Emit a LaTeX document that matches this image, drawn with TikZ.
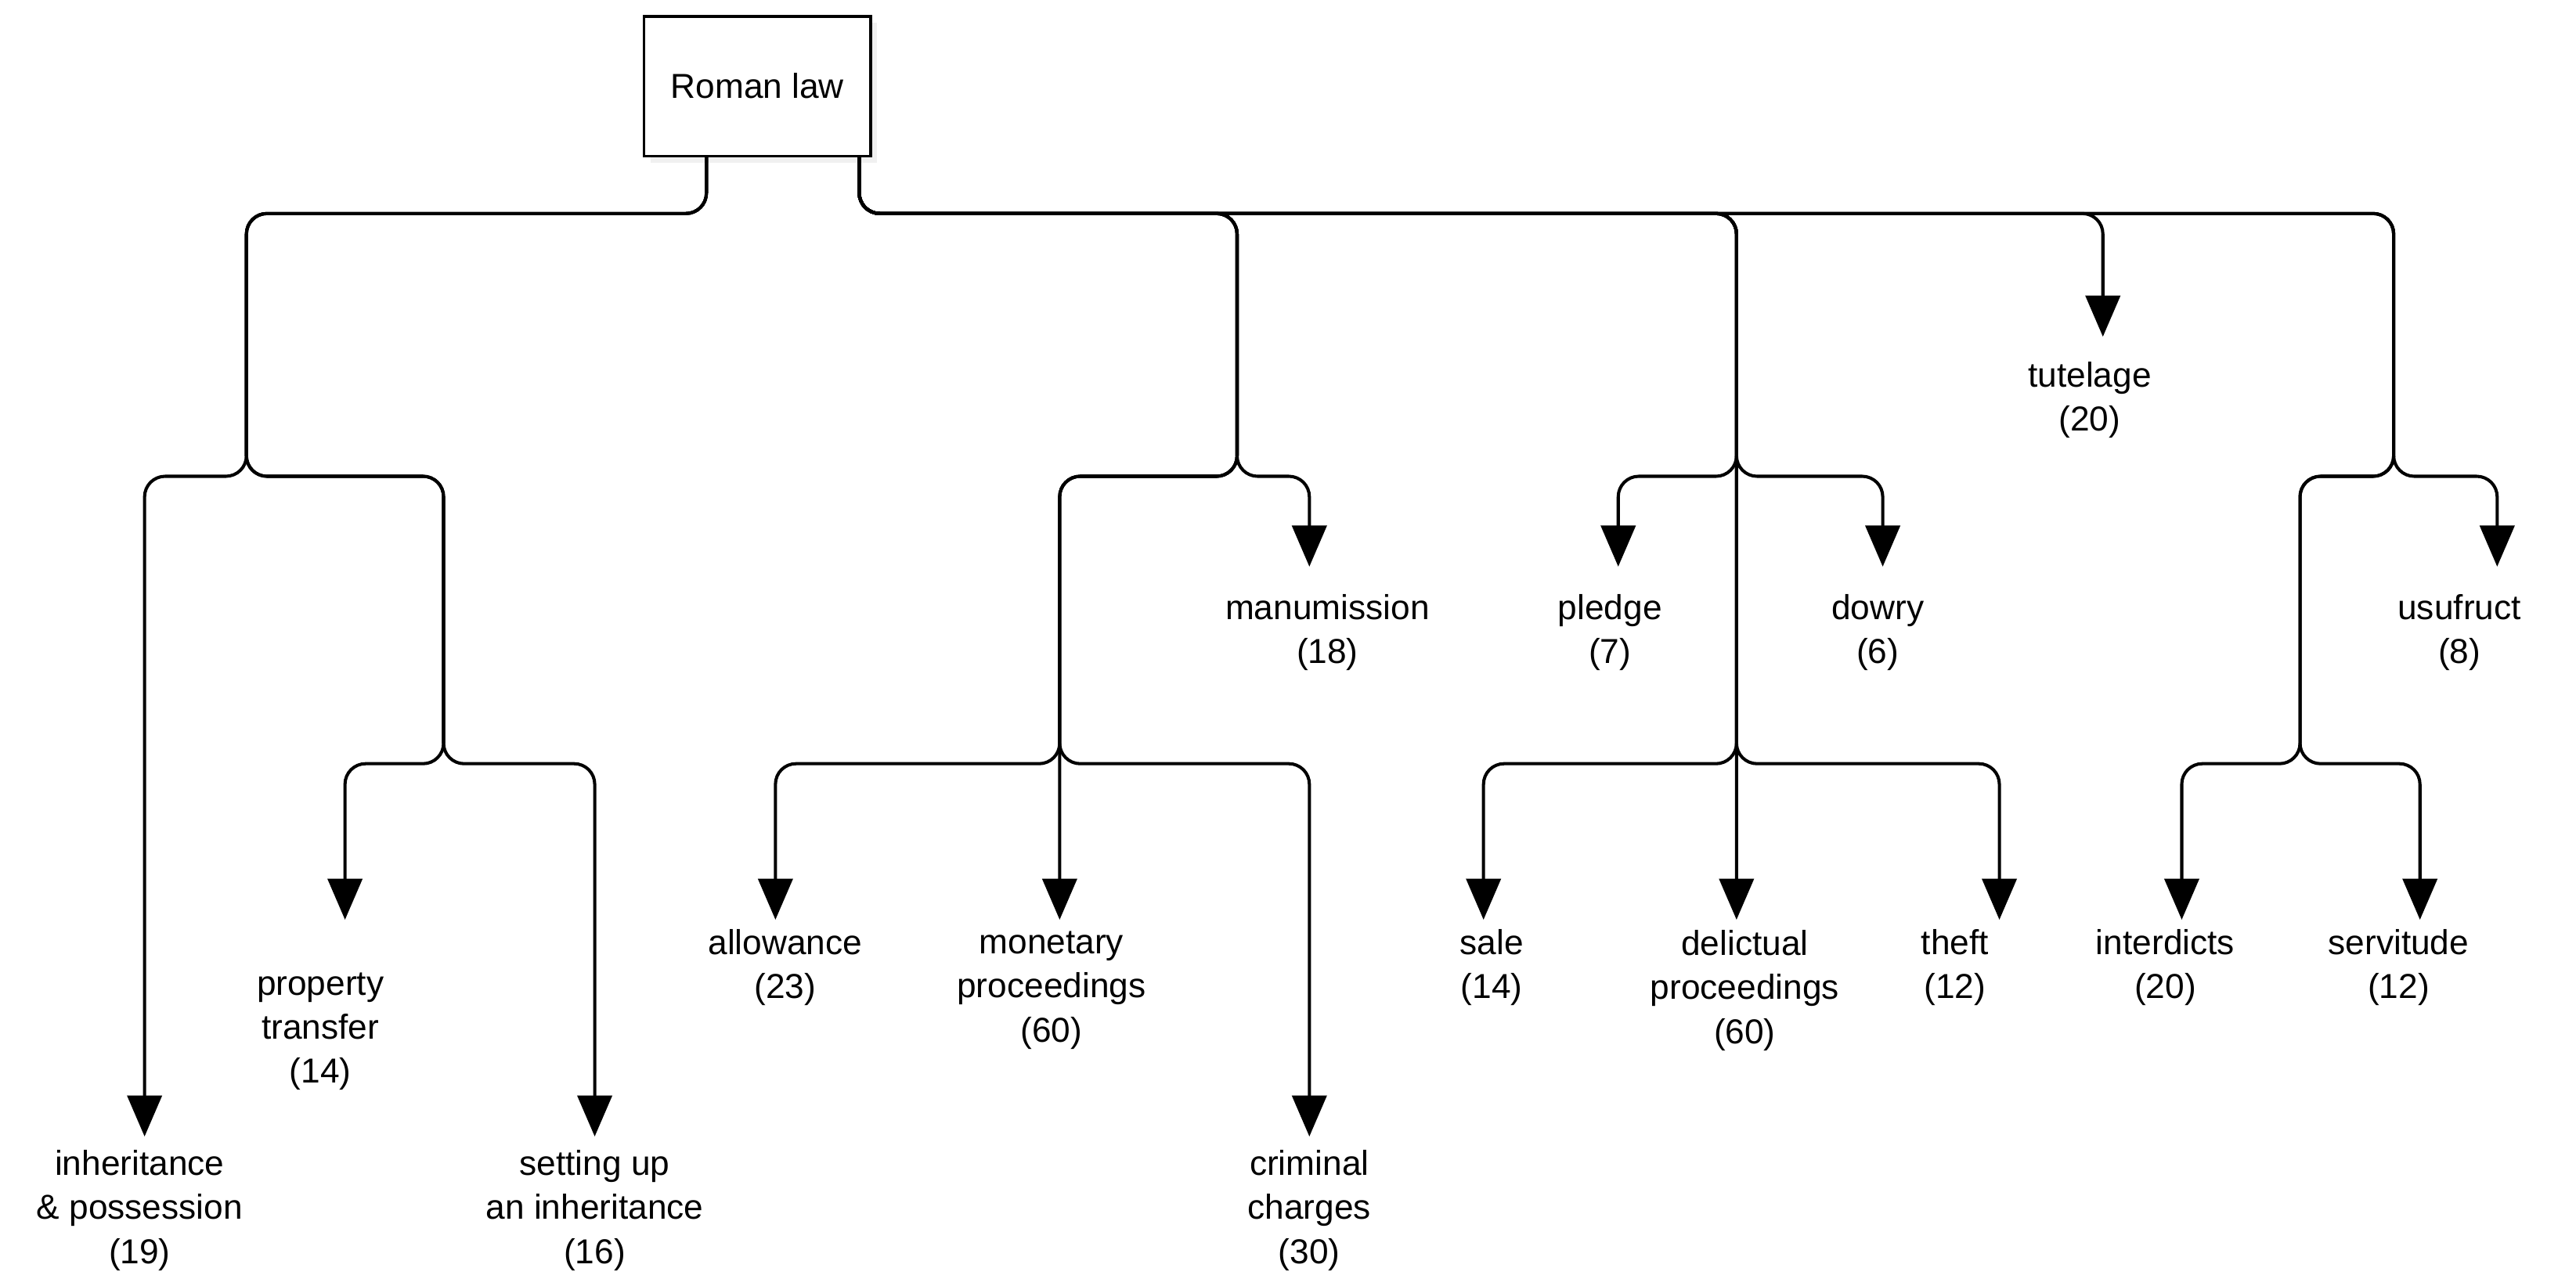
\documentclass[tikz,border=0pt]{standalone}
\usepackage{fontspec}
\setmainfont{Liberation Sans}
\usetikzlibrary{arrows.meta,shadows}
\begin{document}
\begin{tikzpicture}[
  conn/.style={line width=1.1pt, rounded corners=0.25cm},
  arr/.style={conn, -{Triangle[length=0.5cm,width=0.42cm]}},
  lbl/.style={align=center, font=\fontsize{12}{15.3}\selectfont, inner sep=0pt},
  box/.style={draw, line width=1pt, fill=white, minimum width=2.76cm, minimum height=1.7cm, font=\fontsize{12}{15}\selectfont, drop shadow={opacity=0.12, shadow xshift=0.08cm, shadow yshift=-0.08cm}}
]
\useasboundingbox (0,0) rectangle (31.36,-15.66);
\node[box] (root) at (9.22,-1.05) {Roman law};
\coordinate (rl) at (8.6,-1.9);
\coordinate (rr) at (10.46,-1.9);
% tips
\coordinate (tInh) at (1.76,-13.84);
\coordinate (tProp) at (4.2,-11.2);
\coordinate (tSet) at (7.24,-13.84);
\coordinate (tAll) at (9.44,-11.2);
\coordinate (tMon) at (12.9,-11.2);
\coordinate (tCrim) at (15.94,-13.84);
\coordinate (tMan) at (15.94,-6.9);
\coordinate (tPle) at (19.7,-6.9);
\coordinate (tDow) at (22.92,-6.9);
\coordinate (tSale) at (18.06,-11.2);
\coordinate (tDel) at (21.14,-11.2);
\coordinate (tTheft) at (24.34,-11.2);
\coordinate (tTut) at (25.6,-4.1);
\coordinate (tInt) at (26.56,-11.2);
\coordinate (tSer) at (29.46,-11.2);
\coordinate (tUsu) at (30.4,-6.9);
% labels
\node[lbl] (inh) at (1.7,-14.74) {inheritance\\\& possession\\(19)};
\node[lbl] (prop) at (3.9,-12.56) {property\\transfer\\(14)};
\node[lbl] (set) at (7.24,-14.74) {setting up\\an inheritance\\(16)};
\node[lbl] (all) at (9.56,-11.78) {allowance\\(23)};
\node[lbl] (mon) at (12.8,-12.06) {monetary\\proceedings\\(60)};
\node[lbl] (crim) at (15.94,-14.74) {criminal\\charges\\(30)};
\node[lbl] (man) at (16.16,-7.7) {manumission\\(18)};
\node[lbl] (ple) at (19.6,-7.7) {pledge\\(7)};
\node[lbl] (dow) at (22.86,-7.7) {dowry\\(6)};
\node[lbl] (sale) at (18.16,-11.78) {sale\\(14)};
\node[lbl] (del) at (21.24,-12.06) {delictual\\proceedings\\(60)};
\node[lbl] (theft) at (23.8,-11.78) {theft\\(12)};
\node[lbl] (tut) at (25.44,-4.87) {tutelage\\(20)};
\node[lbl] (int) at (26.36,-11.78) {interdicts\\(20)};
\node[lbl] (ser) at (29.2,-11.78) {servitude\\(12)};
\node[lbl] (usu) at (29.94,-7.7) {usufruct\\(8)};
% connectors
\draw[arr] (rl) -- (8.6,-2.6) -- (3.0,-2.6) -- (3.0,-5.8) -- (1.76,-5.8) -- (tInh);
\draw[arr] (rl) -- (8.6,-2.6) -- (3.0,-2.6) -- (3.0,-5.8) -- (5.4,-5.8) -- (5.4,-9.3) -- (4.2,-9.3) -- (tProp);
\draw[arr] (rl) -- (8.6,-2.6) -- (3.0,-2.6) -- (3.0,-5.8) -- (5.4,-5.8) -- (5.4,-9.3) -- (7.24,-9.3) -- (tSet);
\draw[arr] (rr) -- (10.46,-2.6) -- (15.06,-2.6) -- (15.06,-5.8) -- (12.9,-5.8) -- (12.9,-9.3) -- (9.44,-9.3) -- (tAll);
\draw[arr] (rr) -- (10.46,-2.6) -- (15.06,-2.6) -- (15.06,-5.8) -- (12.9,-5.8) -- (tMon);
\draw[arr] (rr) -- (10.46,-2.6) -- (15.06,-2.6) -- (15.06,-5.8) -- (12.9,-5.8) -- (12.9,-9.3) -- (15.94,-9.3) -- (tCrim);
\draw[arr] (rr) -- (10.46,-2.6) -- (15.06,-2.6) -- (15.06,-5.8) -- (15.94,-5.8) -- (tMan);
\draw[arr] (rr) -- (10.46,-2.6) -- (21.14,-2.6) -- (21.14,-5.8) -- (19.7,-5.8) -- (tPle);
\draw[arr] (rr) -- (10.46,-2.6) -- (21.14,-2.6) -- (21.14,-5.8) -- (22.92,-5.8) -- (tDow);
\draw[arr] (rr) -- (10.46,-2.6) -- (21.14,-2.6) -- (21.14,-9.3) -- (18.06,-9.3) -- (tSale);
\draw[arr] (rr) -- (10.46,-2.6) -- (21.14,-2.6) -- (tDel);
\draw[arr] (rr) -- (10.46,-2.6) -- (21.14,-2.6) -- (21.14,-9.3) -- (24.34,-9.3) -- (tTheft);
\draw[arr] (rr) -- (10.46,-2.6) -- (25.6,-2.6) -- (tTut);
\draw[arr] (rr) -- (10.46,-2.6) -- (29.14,-2.6) -- (29.14,-5.8) -- (28.0,-5.8) -- (28.0,-9.3) -- (26.56,-9.3) -- (tInt);
\draw[arr] (rr) -- (10.46,-2.6) -- (29.14,-2.6) -- (29.14,-5.8) -- (28.0,-5.8) -- (28.0,-9.3) -- (29.46,-9.3) -- (tSer);
\draw[arr] (rr) -- (10.46,-2.6) -- (29.14,-2.6) -- (29.14,-5.8) -- (30.4,-5.8) -- (tUsu);
\end{tikzpicture}
\end{document}
